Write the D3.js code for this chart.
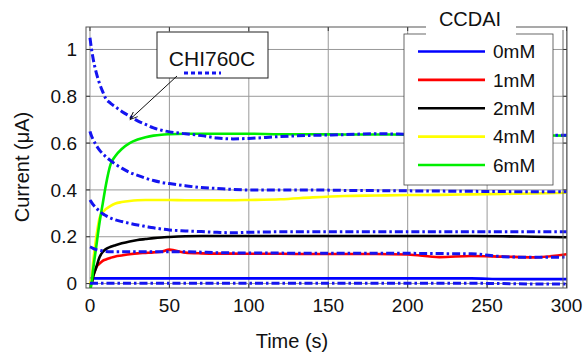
<!DOCTYPE html>
<html>
<head>
<meta charset="utf-8">
<script src="https://cdn.jsdelivr.net/npm/d3@7"></script>
<style>
  body { margin: 0; background: #fff; }
  text { font-family: "Liberation Sans", Arial, sans-serif; fill: #111; }
</style>
</head>
<body>
<div id="chart"></div>
<script>
// sample times (s)
const times = [0, 1, 2, 4, 6, 8, 10, 13, 16, 20, 25, 30, 35, 40, 45, 50, 60, 70, 80, 90, 100, 120, 140, 160, 180, 200, 220, 240, 260, 280, 300];

// CCDAI measurements (uA)
const ccdai0 = [0.022, 0.022, 0.022, 0.022, 0.022, 0.022, 0.022, 0.022, 0.022, 0.022, 0.022, 0.022, 0.022, 0.022, 0.022, 0.022, 0.022, 0.022, 0.022, 0.022, 0.022, 0.022, 0.022, 0.022, 0.022, 0.022, 0.022, 0.022, 0.019, 0.019, 0.019];
const ccdai1 = [0, 0, 0.03, 0.07, 0.085, 0.097, 0.103, 0.11, 0.116, 0.12, 0.125, 0.129, 0.131, 0.133, 0.136, 0.145, 0.132, 0.129, 0.128, 0.128, 0.127, 0.127, 0.126, 0.126, 0.126, 0.124, 0.113, 0.118, 0.115, 0.112, 0.125];
const ccdai2 = [0, 0, 0.03, 0.07, 0.112, 0.135, 0.147, 0.157, 0.164, 0.172, 0.18, 0.186, 0.19, 0.194, 0.197, 0.199, 0.202, 0.203, 0.203, 0.203, 0.203, 0.203, 0.203, 0.203, 0.203, 0.203, 0.203, 0.203, 0.202, 0.2, 0.198];
const ccdai4 = [0, 0.02, 0.09, 0.2, 0.28, 0.305, 0.318, 0.332, 0.342, 0.348, 0.353, 0.356, 0.357, 0.357, 0.357, 0.357, 0.356, 0.356, 0.356, 0.356, 0.357, 0.36, 0.368, 0.374, 0.376, 0.378, 0.379, 0.381, 0.383, 0.385, 0.388];
const ccdai6 = [-0.03, 0, 0.06, 0.16, 0.26, 0.34, 0.42, 0.51, 0.545, 0.575, 0.6, 0.615, 0.625, 0.632, 0.636, 0.638, 0.64, 0.64, 0.64, 0.64, 0.64, 0.638, 0.638, 0.637, 0.637, 0.636, 0.636, 0.635, 0.634, 0.633, 0.632];

// CHI760C reference measurements (uA)
const chi0 = [0.001, 0.001, 0.001, 0.001, 0.001, 0.001, 0.001, 0.001, 0.001, 0.001, 0.001, 0.001, 0.001, 0.001, 0.001, 0.001, 0.001, 0.001, 0.001, 0.001, 0.001, 0.001, 0.001, 0.001, 0.001, 0.001, 0.001, 0.001, 0.0, -0.002, -0.002];
const chi1 = [0.157, 0.154, 0.15, 0.145, 0.142, 0.139, 0.137, 0.136, 0.136, 0.136, 0.136, 0.136, 0.136, 0.136, 0.136, 0.136, 0.136, 0.134, 0.132, 0.131, 0.13, 0.13, 0.129, 0.129, 0.129, 0.129, 0.128, 0.127, 0.115, 0.112, 0.113];
const chi2 = [0.357, 0.347, 0.337, 0.322, 0.31, 0.298, 0.29, 0.28, 0.272, 0.265, 0.257, 0.25, 0.244, 0.238, 0.233, 0.229, 0.225, 0.222, 0.219, 0.217, 0.219, 0.221, 0.221, 0.221, 0.221, 0.221, 0.221, 0.221, 0.221, 0.221, 0.221];
const chi4 = [0.65, 0.63, 0.615, 0.59, 0.57, 0.555, 0.542, 0.525, 0.51, 0.493, 0.475, 0.462, 0.45, 0.44, 0.432, 0.427, 0.418, 0.41, 0.406, 0.402, 0.4, 0.4, 0.4, 0.398, 0.397, 0.396, 0.395, 0.394, 0.393, 0.392, 0.392];
const chi6 = [1.05, 1.0, 0.96, 0.9, 0.855, 0.82, 0.79, 0.77, 0.755, 0.735, 0.715, 0.695, 0.68, 0.665, 0.655, 0.648, 0.64, 0.632, 0.622, 0.618, 0.62, 0.628, 0.633, 0.636, 0.64, 0.638, 0.636, 0.636, 0.635, 0.634, 0.634];

const legendLabels = ['0mM', '1mM', '2mM', '4mM', '6mM'];
const legendColors = ['#0000ff', '#ff0000', '#000000', '#ffff00', '#00ee00'];
const xTicks = [0, 50, 100, 150, 200, 250, 300];
const yTicks = [0, 0.2, 0.4, 0.6, 0.8, 1];

const width = 583, height = 353;
const margin = {top: 27, right: 16, bottom: 65, left: 86};

const svg = d3.select('#chart').append('svg')
  .attr('width', width)
  .attr('height', height);

const x = d3.scaleLinear().domain([-2.5, 300.3]).range([margin.left, width - margin.right]);
const y = d3.scaleLinear().domain([-0.019, 1.096]).range([height - margin.bottom, margin.top]);

const x0 = margin.left, x1 = width - margin.right;
const y0 = height - margin.bottom, y1 = margin.top;

// clip
svg.append('clipPath').attr('id', 'clip')
  .append('rect').attr('x', x0).attr('y', y1).attr('width', x1 - x0).attr('height', y0 - y1);

// grid
const grid = svg.append('g').attr('stroke', '#999').attr('stroke-width', 1);
grid.selectAll('.gx').data(xTicks).enter().append('line')
  .attr('x1', d => x(d)).attr('x2', d => x(d))
  .attr('y1', y0).attr('y2', y1);
grid.selectAll('.gy').data(yTicks).enter().append('line')
  .attr('y1', d => y(d)).attr('y2', d => y(d))
  .attr('x1', x0).attr('x2', x1);

// small tick marks inside the frame
const tk = svg.append('g').attr('stroke', '#333').attr('stroke-width', 1);
xTicks.forEach(d => {
  tk.append('line').attr('x1', x(d)).attr('x2', x(d)).attr('y1', y0).attr('y2', y0 - 4);
  tk.append('line').attr('x1', x(d)).attr('x2', x(d)).attr('y1', y1).attr('y2', y1 + 4);
});
yTicks.forEach(d => {
  tk.append('line').attr('x1', x0).attr('x2', x0 + 4).attr('y1', y(d)).attr('y2', y(d));
  tk.append('line').attr('x1', x1 - 4).attr('x2', x1).attr('y1', y(d)).attr('y2', y(d));
});

// lines
const line = d3.line()
  .x((d, i) => x(times[i]))
  .y(d => y(d))
  .curve(d3.curveMonotoneX);

const plot = svg.append('g').attr('clip-path', 'url(#clip)');

const solidSeries = [ccdai0, ccdai1, ccdai2, ccdai4, ccdai6];
solidSeries.forEach((s, i) => {
  plot.append('path')
    .attr('d', line(s))
    .attr('fill', 'none')
    .attr('stroke', legendColors[i])
    .attr('stroke-width', 2.6);
});

const chiSeries = [chi0, chi1, chi2, chi4, chi6];
chiSeries.forEach(s => {
  plot.append('path')
    .attr('d', line(s))
    .attr('fill', 'none')
    .attr('stroke', '#1414f0')
    .attr('stroke-width', 3)
    .attr('stroke-dasharray', '8,3,2.5,3');
});

// frame
svg.append('rect')
  .attr('x', x0).attr('y', y1)
  .attr('width', x1 - x0).attr('height', y0 - y1)
  .attr('fill', 'none').attr('stroke', '#555').attr('stroke-width', 1);
svg.append('line')
  .attr('x1', x1 - 4).attr('x2', x1 - 4).attr('y1', y1 + 3).attr('y2', y0)
  .attr('stroke', '#666').attr('stroke-width', 1);

// tick labels
svg.append('g').selectAll('text').data(xTicks).enter().append('text')
  .attr('x', d => x(d)).attr('y', 312)
  .attr('text-anchor', 'middle')
  .attr('font-size', 19)
  .text(d => d);
svg.append('g').selectAll('text').data(yTicks).enter().append('text')
  .attr('x', 77).attr('y', d => y(d))
  .attr('dy', '0.35em')
  .attr('text-anchor', 'end')
  .attr('font-size', 19)
  .text(d => d);

// axis titles
svg.append('text')
  .attr('x', 292).attr('y', 348)
  .attr('text-anchor', 'middle')
  .attr('font-size', 20)
  .text('Time (s)');
svg.append('text')
  .attr('transform', 'translate(22,167) rotate(-90)')
  .attr('text-anchor', 'middle')
  .attr('dy', '0.35em')
  .attr('font-size', 20)
  .text('Current (\u03bcA)');

// legend
const lg = svg.append('g');
lg.append('rect')
  .attr('x', 404).attr('y', 34).attr('width', 149).attr('height', 151)
  .attr('fill', '#fff').attr('stroke', '#444').attr('stroke-width', 0.8);
lg.append('rect')
  .attr('x', 426).attr('y', 8).attr('width', 90).attr('height', 30)
  .attr('fill', '#fff');
lg.append('text')
  .attr('x', 470).attr('y', 26)
  .attr('text-anchor', 'middle')
  .attr('font-size', 20)
  .text('CCDAI');
const rowY = d3.scalePoint().domain(legendLabels).range([51.5, 165]);
legendLabels.forEach((lab, i) => {
  lg.append('line')
    .attr('x1', 418).attr('x2', 485)
    .attr('y1', rowY(lab)).attr('y2', rowY(lab))
    .attr('stroke', legendColors[i]).attr('stroke-width', 2.6);
  lg.append('text')
    .attr('x', 493).attr('y', rowY(lab))
    .attr('dy', '0.36em')
    .attr('font-size', 19)
    .text(lab);
});

// CHI760C annotation
const ann = svg.append('g');
ann.append('rect')
  .attr('x', 157).attr('y', 32).attr('width', 111).attr('height', 46)
  .attr('fill', '#fff').attr('stroke', '#222').attr('stroke-width', 1);
ann.append('text')
  .attr('x', 212).attr('y', 66)
  .attr('text-anchor', 'middle')
  .attr('font-size', 21)
  .text('CHI760C');
ann.append('line')
  .attr('x1', 184).attr('x2', 221).attr('y1', 73).attr('y2', 73)
  .attr('stroke', '#1414f0').attr('stroke-width', 3)
  .attr('stroke-dasharray', '4,3');

svg.append('defs').append('marker')
  .attr('id', 'arrow')
  .attr('viewBox', '0 0 10 10')
  .attr('refX', 10).attr('refY', 5)
  .attr('markerWidth', 8).attr('markerHeight', 8)
  .attr('orient', 'auto')
  .append('path').attr('d', 'M0,1 L10,5 L0,9').attr('fill', 'none').attr('stroke', '#111').attr('stroke-width', 1.2);
ann.append('line')
  .attr('x1', 177).attr('y1', 76).attr('x2', x(25)).attr('y2', y(0.7))
  .attr('stroke', '#111').attr('stroke-width', 1)
  .attr('marker-end', 'url(#arrow)');
</script>
</body>
</html>
